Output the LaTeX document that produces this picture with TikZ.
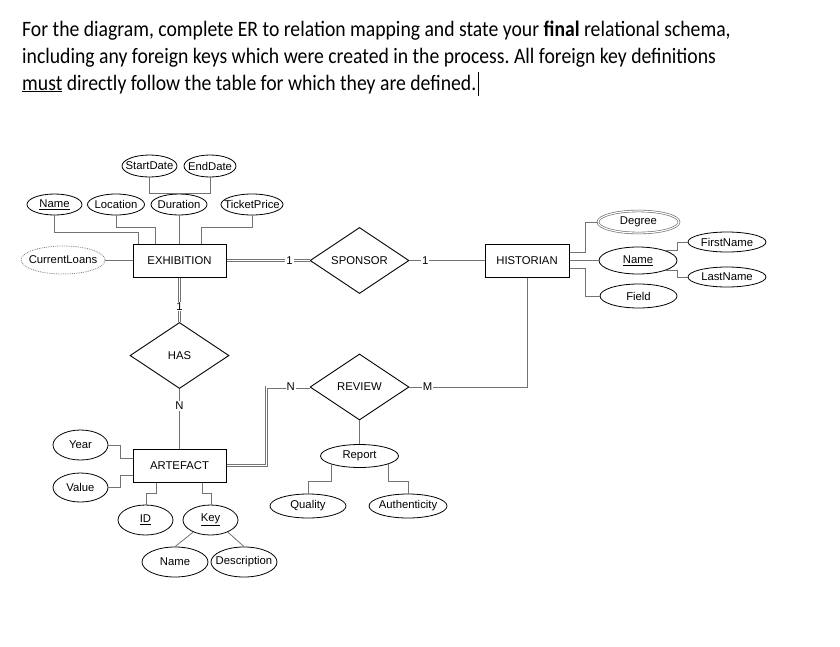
\documentclass[tikz,border=0pt]{standalone}
\usepackage{fontspec}
\setmainfont[FakeStretch=0.895]{Carlito}
\newfontfamily\arial{Liberation Sans}
\usetikzlibrary{shapes.geometric,calc}
\frenchspacing
\begin{document}
\begin{tikzpicture}[x=1pt,y=1pt,
  every node/.style={font=\arial\fontsize{11.3}{13}\selectfont, inner sep=0pt},
  attr/.style n args={3}{ellipse, draw, line width=0.8pt, minimum width=#1, minimum height=#2, label={center:#3}},
  ent/.style={rectangle, draw, line width=1pt, minimum width=93pt, minimum height=33pt},
  rel/.style={diamond, draw, line width=0.9pt, minimum width=99pt, minimum height=66pt},
  conn/.style={draw=black!55, line width=0.8pt},
  dconn/.style={draw=black!55, line width=0.7pt, double=white, double distance=1.6pt},
  lbl/.style={fill=white, inner sep=1pt},
  hdr/.style={anchor=base west, font=\fontsize{22}{26.8}\selectfont},
]
\useasboundingbox[fill=white] (0,0) rectangle (840,-646);

% header text
\node[hdr] (l1) at (22,-36.5) {For the diagram, complete ER to relation mapping and state your \textbf{final} relational schema,};
\node[hdr] (l2) at (22,-63.3) {including any foreign keys which were created in the process. All foreign key definitions};
\node[hdr] (l3) at (22,-90) {\underline{must} directly follow the table for which they are defined.};
\draw[line width=0.7pt] ($(l3.base east)+(1.5,-6)$) -- ++(0,24);

% entities and relationships
\node[ent] (exh) at (179.5,-260.5) {EXHIBITION};
\node[ent, minimum width=84pt] (hist) at (527,-260.5) {HISTORIAN};
\node[ent] (art) at (179.5,-465.5) {ARTEFACT};
\node[rel] (spon) at (359.5,-260.5) {SPONSOR};
\node[rel] (rev) at (359.5,-387) {REVIEW};
\node[rel] (has) at (179.5,-355.5) {HAS};

% attributes
\node[attr={55pt}{22pt}{StartDate}] (sd) at (149.5,-166) {};
\node[attr={52pt}{22pt}{EndDate}] (ed) at (210,-166) {};
\node[attr={55pt}{21pt}{\underline{Name}}] (nm1) at (54.5,-204.5) {};
\node[attr={57pt}{21pt}{Location}] (loc) at (116,-204.5) {};
\node[attr={56pt}{21pt}{Duration}] (dur) at (179,-204.5) {};
\node[attr={62pt}{21pt}{TicketPrice}] (tp) at (252,-204.5) {};
\node[attr={84pt}{28pt}{CurrentLoans}, draw=black!50, densely dotted] (cl) at (63,-260) {};
\node[attr={81pt}{22pt}{Degree}, draw=black!60, line width=0.6pt, double, double distance=1.2pt] (deg) at (638.5,-222) {};
\node[attr={78pt}{27pt}{\underline{Name}}] (nm2) at (638,-260.5) {};
\node[attr={77pt}{24pt}{Field}] (fld) at (638.5,-296) {};
\node[attr={78pt}{20pt}{FirstName}] (fn) at (727,-242) {};
\node[attr={78pt}{20pt}{LastName}] (ln) at (727,-277) {};
\node[attr={55pt}{30pt}{Year}] (yr) at (80.5,-445) {};
\node[attr={55pt}{29pt}{Value}] (val) at (80.5,-487.5) {};
\node[attr={55pt}{30pt}{\underline{ID}}] (id) at (145.5,-520) {};
\node[attr={55pt}{30pt}{\underline{Key}}] (key) at (210.5,-520) {};
\node[attr={66pt}{30pt}{Name}] (nm3) at (175,-562) {};
\node[attr={66pt}{30pt}{Description}] (desc) at (244,-562) {};
\node[attr={78pt}{23pt}{Report}] (rep) at (359.5,-456) {};
\node[attr={76pt}{24pt}{Quality}] (qual) at (308,-506) {};
\node[attr={78pt}{24pt}{Authenticity}] (auth) at (408,-506) {};

% exhibition attributes
\draw[conn] (nm1.south) |- (138,-232) -- (exh.north -| 138,0);
\draw[conn] (loc.south) |- (155,-227) -- (exh.north -| 155,0);
\draw[conn] (dur.south) -- (exh.north -| dur.south);
\draw[conn] (tp.south) |- (201,-227) -- (exh.north -| 201,0);
\draw[conn] (sd.south) |- (ed.south |- 0,-193) -- (ed.south);
\draw[conn] (cl.east) -- (cl.east -| exh.west);

% relationships
\draw[dconn] (exh.east) -- node[lbl, pos=0.76]{1} (spon.west);
\draw[conn] (spon.east) -- node[lbl, pos=0.21]{1} (hist.west);
\draw[dconn] (exh.south) -- node[lbl, pos=0.65]{1} (has.north);
\draw[conn] (has.south) -- node[lbl, pos=0.28]{N} (art.north);
\draw[dconn] (art.east) -| ($(rev.west)+(-43,0)$) -- node[lbl, pos=0.56]{N} (rev.west);
\draw[conn] (rev.east) -| (hist.south);
\node[lbl] (mlbl) at ($(rev.east)+(18,0)$) {M};
\draw[conn] (rev.south) -- (rep.north);

% historian attributes
\draw[conn] (hist.east |- 0,-252) -- (585,-252) |- (deg.west);
\draw[conn] (hist.east) -- (nm2.west);
\draw[conn] (hist.east |- 0,-268) -- (585,-268) |- (fld.west);
\draw[conn] (nm2.20) -| ($(fn.west)+(-10,0)$) -- (fn.west);
\draw[conn] (nm2.-20) -| ($(ln.west)+(-10,0)$) -- (ln.west);

% artefact attributes
\draw[conn] (yr.east) -| (120,-458) -- (art.west |- 0,-458);
\draw[conn] (val.east) -| (120,-475) -- (art.west |- 0,-475);
\draw[conn] (art.south -| 156,0) |- (146,-493) -- (id.north -| 146,0);
\draw[conn] (art.south -| 202,0) |- (211,-493) -- (key.north -| 211,0);
\draw[conn] (key.215) -- (nm3.north);
\draw[conn] (key.-35) -- (desc.north);

% report attributes
\draw[conn] (rep.196) |- ($(qual.north)+(0,12)$) -- (qual.north);
\draw[conn] (rep.-16) |- ($(auth.north)+(0,12)$) -- (auth.north);
\end{tikzpicture}
\end{document}
